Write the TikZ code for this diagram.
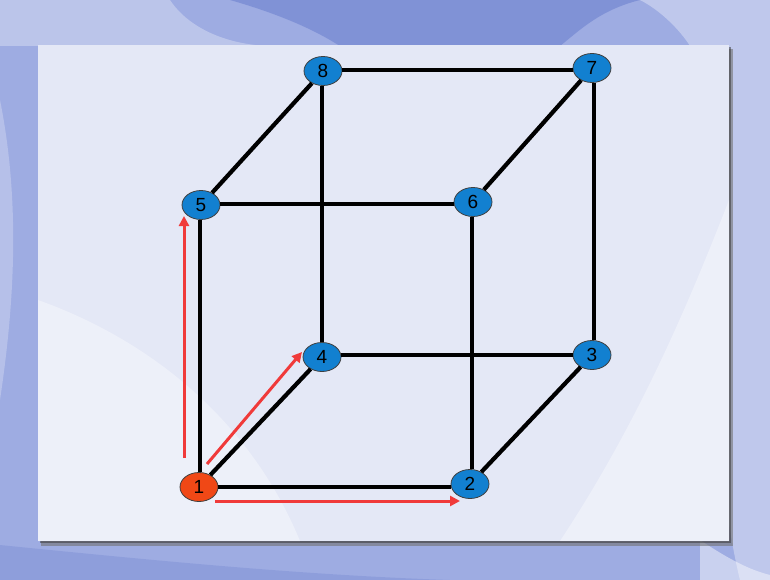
\documentclass[tikz,border=0pt]{standalone}
\usepackage{fontspec}
\setmainfont{Liberation Sans}
\usetikzlibrary{shapes.geometric,arrows.meta}
\definecolor{bgblue}{RGB}{158,172,226}
\definecolor{bgdark}{RGB}{128,146,214}
\definecolor{panelc}{RGB}{228,232,246}
\definecolor{nodeblue}{RGB}{18,128,208}
\definecolor{nodered}{RGB}{240,72,22}
\definecolor{arrred}{RGB}{240,58,58}
\tikzset{
  vert/.style={ellipse,draw=black!75,line width=0.8pt,fill=nodeblue,minimum width=38pt,minimum height=29pt,inner sep=0pt,font=\fontsize{19}{19}\selectfont,text depth=-2pt},
  startv/.style={vert,fill=nodered},
  edge/.style={line width=4.2pt,black},
  redarrow/.style={line width=3pt,arrred,-{Triangle[length=10pt,width=10pt]}}
}
\begin{document}
\begin{tikzpicture}[x=1pt,y=-1pt]
\useasboundingbox (0,0) rectangle (770,580);
% background
\fill[bgblue] (0,0) rectangle (770,580);
\fill[bgdark] (230,0) .. controls (300,20) and (330,40) .. (340,46) -- (560,46) .. controls (580,30) and (600,10) .. (640,0) -- cycle;
\fill[white,opacity=0.3] (0,0) -- (170,0) .. controls (190,30) and (230,45) .. (270,46) -- (0,46) -- cycle;
\fill[white,opacity=0.35] (640,0) -- (770,0) -- (770,580) -- (740,580) .. controls (720,500) and (700,300) .. (690,46) .. controls (680,30) and (660,10) .. (640,0) -- cycle;
\fill[white,opacity=0.45] (700,540) .. controls (730,560) and (750,570) .. (770,575) -- (770,580) -- (700,580) -- cycle;
\fill[white,opacity=0.25] (0,100) .. controls (20,200) and (15,300) .. (0,400) -- cycle;
\fill[bgdark,opacity=0.5] (0,545) .. controls (150,560) and (300,575) .. (450,580) -- (0,580) -- cycle;
% panel with shadow
\fill[black!55,opacity=0.6] (41,49) rectangle (733,546);
\fill[black!80,opacity=0.5] (40,47) rectangle (731,543);
\fill[panelc] (38,45) rectangle (729,541);
\fill[white,opacity=0.35] (38,300) .. controls (150,340) and (250,420) .. (300,541) -- (38,541) -- cycle;
\fill[white,opacity=0.35] (560,541) .. controls (640,420) and (690,300) .. (729,200) -- (729,541) -- cycle;
% vertices
\node[startv] (n1) at (199,487) {1};
\node[vert] (n2) at (470,484) {2};
\node[vert] (n3) at (592,355) {3};
\node[vert] (n4) at (322,357) {4};
\node[vert] (n5) at (201,205) {5};
\node[vert] (n6) at (473,202) {6};
\node[vert] (n7) at (592,68) {7};
\node[vert] (n8) at (323,71) {8};
% edges
\draw[edge] (n1.east) -- (n2.west |- n1.east);
\draw[edge] (n1) -- (n4);
\draw[edge] (n1.north -| 200,0) -- (n5.south -| 200,0);
\draw[edge] (n2) -- (n3);
\draw[edge] (n2.north -| 472,0) -- (n6.south -| 472,0);
\draw[edge] (n3.west |- 0,355) -- (n4.east |- 0,355);
\draw[edge] (n3.north -| 594,0) -- (n7.south -| 594,0);
\draw[edge] (n4.north -| 322,0) -- (n8.south -| 322,0);
\draw[edge] (n5.east |- 0,204) -- (n6.west |- 0,204);
\draw[edge] (n5) -- (n8);
\draw[edge] (n6) -- (n7);
\draw[edge] (n7.west |- 0,70) -- (n8.east |- 0,70);
% red arrows
\coordinate (av1) at (184,458);
\coordinate (av2) at (184,216);
\coordinate (ad1) at (207,464);
\coordinate (ad2) at (302,352);
\coordinate (ah1) at (215,501);
\coordinate (ah2) at (460,501);
\draw[redarrow] (av1) -- (av2);
\draw[redarrow] (ad1) -- (ad2);
\draw[redarrow] (ah1) -- (ah2);
\end{tikzpicture}
\end{document}
